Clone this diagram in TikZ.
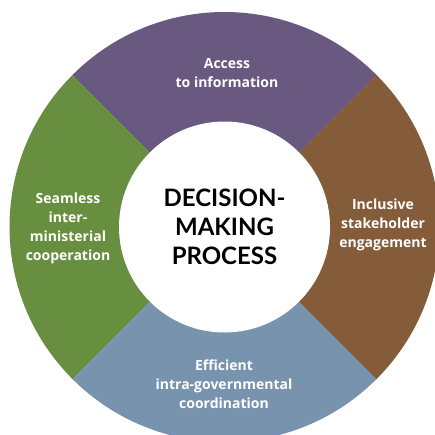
\documentclass[tikz,border=0pt]{standalone}
\usepackage{fontspec}
\setsansfont{Lato}
\newfontfamily\labelfont{Open Sans}
\usetikzlibrary{positioning}

\definecolor{accessfill}{HTML}{695880}
\definecolor{inclusivefill}{HTML}{855C39}
\definecolor{efficientfill}{HTML}{7893AD}
\definecolor{seamlessfill}{HTML}{688E3F}

\begin{document}
\begin{tikzpicture}[
    x=1pt, y=1pt,
    every node/.style={font=\sffamily\bfseries, align=center},
    label/.style={text=white, font=\labelfont\bfseries\fontsize{14}{19}\selectfont},
    hub/.style={circle, fill=white, minimum size=211pt, inner sep=0pt,
                font=\sffamily\bfseries\fontsize{24}{29}\selectfont}
]
\useasboundingbox (0,0) rectangle (435,-434);
\clip (0,0) rectangle (435,-434);
\coordinate (c) at (224.5,-227);

% ring segments
\fill[accessfill] (c) -- ++(45:215pt) arc[start angle=45, end angle=135, radius=215pt] -- cycle;
\fill[seamlessfill] (c) -- ++(135:215pt) arc[start angle=135, end angle=225, radius=215pt] -- cycle;
\fill[efficientfill] (c) -- ++(225:215pt) arc[start angle=225, end angle=315, radius=215pt] -- cycle;
\fill[inclusivefill] (c) -- ++(315:215pt) arc[start angle=315, end angle=405, radius=215pt] -- cycle;

\node[hub] (hub) at (c) {DECISION-\\MAKING\\PROCESS};

\node[label] (access) at (227,-73) {Access\\to information};
\node[label] (inclusive) at (383,-225) {Inclusive\\stakeholder\\engagement};
\node[label] (efficient) at (224,-384) {Efficient\\intra-governmental\\coordination};
\node[label] (seamless) at (68,-228) {Seamless\\inter-\\ministerial\\cooperation};
\end{tikzpicture}
\end{document}
